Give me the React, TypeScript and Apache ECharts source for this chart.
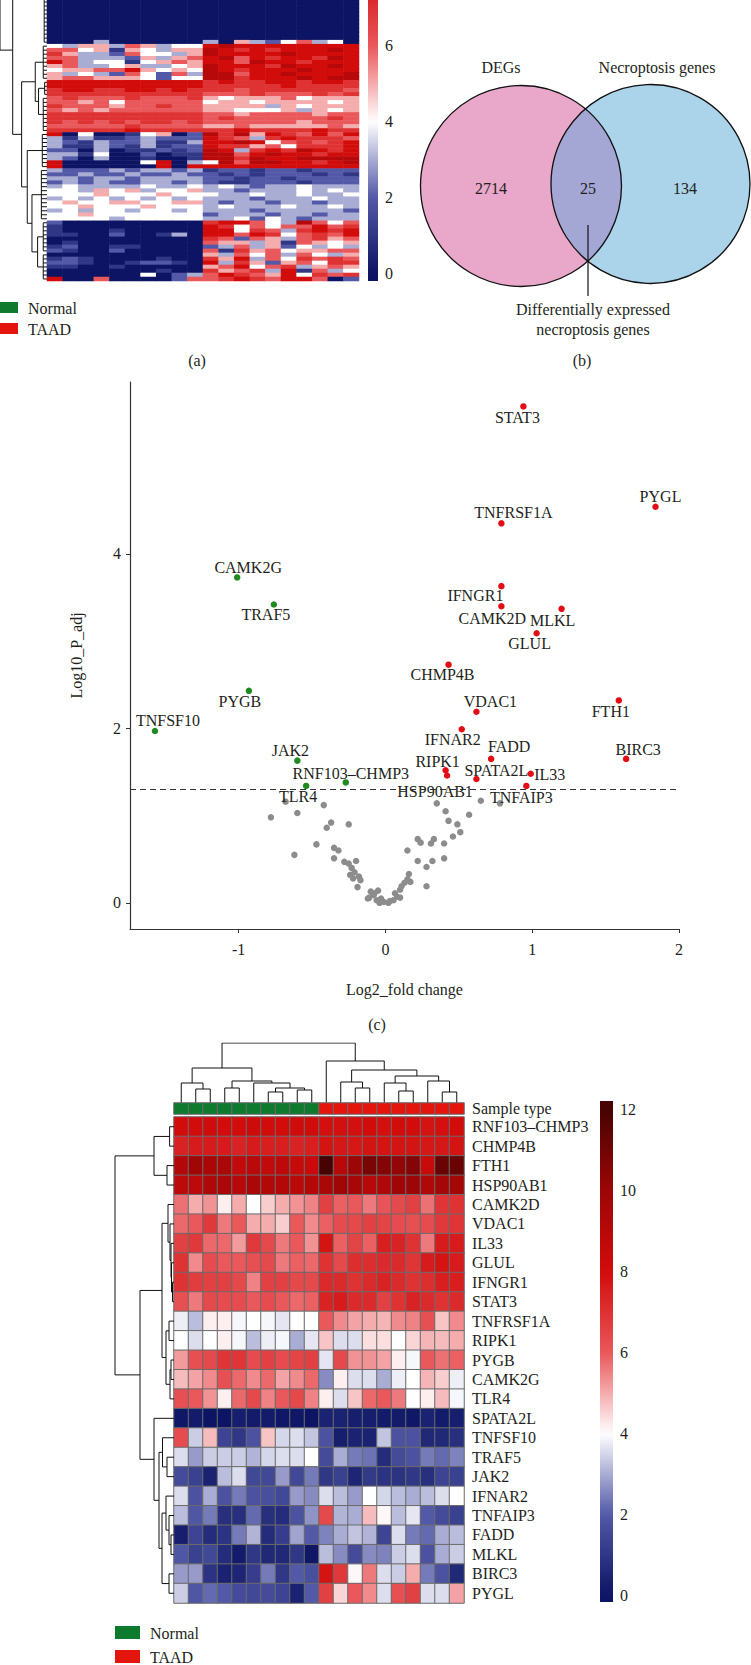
import React, { useEffect, useRef } from "react";
import * as echarts from "echarts";

// ---------------- DATA ----------------
const SAMPLE_GROUPS = ["Normal","Normal","Normal","Normal","Normal","Normal","Normal","Normal","Normal","Normal","TAAD","TAAD","TAAD","TAAD","TAAD","TAAD","TAAD","TAAD","TAAD","TAAD"];

// panel (a): expression heatmap, one string per row, one digit (expression value) per sample
const HEAT_A_ROWS = [
  "00000000000000000000","00000000000000000000","00000000000000000000","00000000000000000000","00000000000000000000",
  "00000000000000000000","00000000000000000000","00000000000000000000","00000000000000000000","00000000000000000000",
  "00030000003053246340","43553653448988888888","66451543559878788898","75332644359888898888","66333253568968788798",
  "86344145658869887888","56334533459888798898","45566854549878889888","53432642639968898889","56655542449978889899",
  "88888888887877887887","88888888887777787777","78877887877767777776","77777777776667666767","67666766675455564555",
  "66564666664554555545","76665667665555354555","65656666665544453545","77777777776656666566","77777777776766666676",
  "76767677676666665666","66666766665565555565","77777877777787777877","80400145029795876868","31311232228763787776",
  "32132231138898467678","31132131228775647778","22030112129837879878","33140020119968988788","32030010019979889999",
  "80000048034969988789","80000008088888888888","32223233231221221222","22322322322121222121","33233233332212212222",
  "23232233232112221222","34333343343432334333","44354534453323334343","44454445444334334334","34343434343332333433",
  "45445544553233233233","44544454443433343343","34344344343332333332","44544444442333233233","44443444443342432333",
  "20000000007886439646","10000000008746466867","10001000008847637878","11002001308868746768","00000000007626536756",
  "01000000006553516545","12001100002363524343","21002000006175645566","00000000005364636435","12100001007583647676",
  "22100122108375256477","11001000005684673565","00000001007567381634","00000040236876584767","80060000266787688602",
];
const HEAT_A_TICKS = [0, 2, 4, 6];

// panel (b): Venn
const VENN_SETS = ["DEGs", "Necroptosis genes"];
const VENN_COUNTS = [2714, 25, 134];
const VENN_NOTE = ["Differentially expressed", "necroptosis genes"];

// panel (c): volcano
const DOWN_GENES = ["CAMK2G","TRAF5","PYGB","TNFSF10","JAK2","RNF103–CHMP3","TLR4"];
const DOWN_X = [-1.01,-0.76,-0.93,-1.57,-0.60,-0.27,-0.54];
const DOWN_Y = [3.73,3.42,2.43,1.97,1.63,1.38,1.34];
const UP_GENES = ["STAT3","PYGL","TNFRSF1A","IFNGR1","CAMK2D","MLKL","GLUL","CHMP4B","FTH1","VDAC1","IFNAR2","FADD","BIRC3","RIPK1","HSP90AB1","SPATA2L","IL33","TNFAIP3"];
const UP_X = [0.94,1.84,0.79,0.79,0.79,1.20,1.03,0.43,1.59,0.62,0.52,0.72,1.64,0.41,0.42,0.62,0.99,0.96];
const UP_Y = [5.69,4.54,4.35,3.63,3.40,3.37,3.09,2.73,2.32,2.19,1.99,1.65,1.65,1.52,1.46,1.42,1.48,1.34];
const NS_X = [-0.68,-0.42,-0.78,-0.60,-0.37,-0.40,-0.25,-0.47,-0.62,-0.35,-0.32,-0.35,-0.28,-0.25,-0.20,-0.23,-0.24,-0.21,-0.18,-0.17,-0.19,-0.22,-0.10,-0.11,-0.08,-0.06,-0.04,-0.01,-0.03,-0.075,-0.05,-0.12,
  0.02,0.055,0.03,0.08,0.065,0.10,0.10,0.11,0.13,0.15,0.16,0.17,0.15,0.22,0.24,0.22,0.28,0.28,0.31,0.33,0.32,0.35,0.41,0.43,0.40,0.40,0.46,0.49,0.51,0.57,0.65,0.78];
const NS_Y = [1.16,1.12,0.98,1.03,0.92,0.86,0.90,0.67,0.55,0.63,0.60,0.51,0.47,0.45,0.48,0.40,0.32,0.35,0.30,0.26,0.18,0.28,0.13,0.06,0.09,0.03,0.00,0.01,0.05,0.11,0.14,0.05,
  0.00,0.03,0.02,0.07,0.11,0.06,0.15,0.19,0.23,0.27,0.33,0.24,0.60,0.73,0.69,0.48,0.41,0.19,0.68,0.73,0.48,1.14,1.05,0.94,0.68,0.51,0.76,0.90,0.81,1.01,1.17,1.14];
const P_CUTOFF = 0.05;
const VOLCANO_X_TICKS = [-1, 0, 1, 2];
const VOLCANO_Y_TICKS = [0, 2, 4];

// panel (d): heatmap of the 25 genes
const GENES_D = ["RNF103–CHMP3","CHMP4B","FTH1","HSP90AB1","CAMK2D","VDAC1","IL33","GLUL","IFNGR1","STAT3","TNFRSF1A","RIPK1","PYGB","CAMK2G","TLR4","SPATA2L","TNFSF10","TRAF5","JAK2","IFNAR2","TNFAIP3","FADD","MLKL","BIRC3","PYGL"];
const EXPR_D = [
  [8.0,8.0,8.1,8.0,8.0,8.2,8.0,8.0,8.1,8.1, 7.9,7.9,7.9,8.0,7.9,8.0,8.0,7.8,7.9,8.0],
  [7.4,7.6,7.6,7.6,7.4,7.6,7.5,7.5,7.4,7.5, 7.8,7.7,7.7,7.8,7.8,7.8,7.8,7.7,7.7,7.8],
  [9.2,9.8,9.4,9.5,8.6,8.9,8.6,8.8,8.5,8.3, 12.2,9.0,10.0,10.8,10.6,10.2,10.6,8.4,11.2,11.2],
  [8.8,8.8,9.3,9.5,9.0,9.5,9.2,9.2,8.9,9.1, 9.5,9.8,9.6,9.0,9.3,9.8,10.0,9.3,9.7,9.7],
  [5.7,5.0,5.3,4.2,5.0,4.0,4.6,5.0,5.3,5.5, 6.6,5.9,6.0,5.6,6.1,6.4,6.6,5.7,6.9,7.0],
  [5.8,6.0,6.8,5.6,6.0,5.0,5.0,4.6,6.0,5.4, 5.9,6.3,6.4,6.6,6.5,6.3,6.2,6.3,6.8,6.9],
  [6.6,6.8,5.8,5.8,5.2,6.8,6.4,5.6,6.0,5.3, 7.8,5.9,6.5,5.9,7.5,7.4,7.0,5.6,7.6,7.6],
  [7.0,5.4,6.3,6.0,6.0,6.2,6.4,5.6,5.9,5.8, 7.0,6.4,7.1,7.1,7.2,7.2,6.9,7.6,7.8,7.6],
  [7.0,6.7,6.6,6.6,6.4,5.5,6.6,6.6,6.4,6.4, 7.2,7.2,7.0,7.2,7.4,7.2,7.0,7.1,7.5,7.5],
  [6.2,5.6,6.4,6.3,6.3,6.0,6.3,6.0,5.8,5.9, 7.4,7.6,7.2,7.2,6.6,7.0,7.4,7.2,7.0,7.2],
  [3.8,3.2,4.2,4.2,3.9,4.0,3.9,3.7,4.0,4.0, 6.0,5.4,5.1,5.0,4.9,5.4,5.5,6.2,4.7,5.4],
  [4.0,3.6,4.0,4.2,3.9,3.2,3.8,3.9,3.0,3.7, 4.7,3.6,3.6,4.4,4.4,4.0,4.5,4.9,4.8,5.0],
  [5.2,6.2,6.4,6.9,6.9,6.3,6.6,6.3,6.5,6.6, 3.7,6.4,5.3,5.3,5.1,4.2,3.9,6.0,5.7,5.9],
  [4.8,5.1,5.4,6.2,5.8,5.4,5.8,5.1,5.4,5.8, 2.6,4.2,3.6,3.6,3.0,3.8,4.0,4.9,4.6,3.8],
  [6.2,6.0,5.3,4.2,5.8,6.4,5.5,6.0,6.4,5.5, 4.2,3.6,4.7,5.8,6.0,5.6,4.0,4.2,4.8,3.9],
  [0.1,0.2,0.0,0.0,0.3,0.2,0.2,0.1,0.1,0.0, 0.4,0.4,0.3,0.3,0.2,0.2,0.1,0.4,0.2,0.3],
  [6.3,3.4,4.8,1.4,1.0,1.8,4.7,3.5,3.6,3.3, 1.8,0.3,0.4,0.4,3.3,1.8,1.8,0.6,0.6,0.8],
  [3.6,2.8,3.4,3.4,3.4,3.1,3.5,3.6,3.6,4.0, 1.6,3.0,2.4,2.3,0.7,1.6,1.8,2.4,2.2,2.5],
  [1.6,1.3,0.4,3.2,3.6,1.5,1.5,2.8,1.5,2.4, 1.0,1.3,0.5,1.1,0.9,0.9,1.0,0.8,1.4,1.3],
  [3.6,1.8,3.0,1.8,2.4,1.8,1.7,1.5,2.8,2.6, 3.6,3.2,2.8,4.0,3.5,3.2,3.0,3.2,3.6,4.0],
  [3.2,1.9,2.4,0.8,0.8,2.2,0.8,0.7,1.8,2.7, 6.4,3.1,3.0,4.8,4.1,3.2,3.7,2.0,1.6,1.3],
  [0.3,1.4,0.7,0.9,2.4,3.1,0.7,1.2,2.9,2.0, 2.5,3.0,3.3,3.1,1.4,3.6,2.4,2.2,3.0,3.2],
  [1.9,1.3,1.5,0.7,0.2,1.0,0.6,0.6,1.0,0.1, 3.2,2.6,1.6,2.6,2.5,3.4,3.6,1.8,3.0,3.4],
  [2.8,2.8,0.9,0.4,0.5,1.2,2.4,1.0,2.0,1.7, 7.8,6.8,4.1,5.6,3.6,3.4,5.0,2.4,1.8,0.6],
  [3.4,1.9,2.2,2.0,1.6,1.5,1.6,1.4,0.4,2.0, 6.6,4.5,6.0,5.4,3.6,6.2,6.6,3.6,3.6,5.1],
];
const HEAT_D_TICKS = [0, 2, 4, 6, 8, 10, 12];

// dendrograms: leaves are sample / row indices (or row blocks), h = merge height
type TNode = number | { h: number; c: [TNode, TNode] } | { r: [number, number]; h: number };
const ROW_TREE_A: TNode = { h: 100, c: [
  { r: [-60, -30], h: 5 },
  { h: 73, c: [
    { r: [-28, 10], h: 6 },
    { h: 54, c: [
      { h: 25, c: [ { r: [11, 19], h: 8 }, { h: 18, c: [ { r: [20, 23], h: 5 }, { r: [24, 32], h: 8 } ] } ] },
      { h: 42, c: [
        { r: [33, 41], h: 10 },
        { h: 32, c: [ { r: [42, 54], h: 12 }, { h: 20, c: [ { r: [55, 62], h: 8 }, { r: [63, 69], h: 8 } ] } ] },
      ] },
    ] },
  ] },
] };
const COL_TREE_D: TNode = { h: 60, c: [
  { h: 35, c: [
    { h: 20, c: [0, { h: 14, c: [1, 2] }] },
    { h: 22, c: [ { h: 15, c: [3, 4] }, { h: 20, c: [5, { h: 15, c: [ { h: 11, c: [6, 7] }, { h: 13, c: [8, 9] } ] }] } ] },
  ] },
  { h: 42, c: [10, { h: 33, c: [
    { h: 21, c: [11, { h: 15, c: [12, 13] }] },
    { h: 27, c: [ { h: 20, c: [14, { h: 12, c: [15, 16] }] }, { h: 22, c: [17, { h: 11, c: [18, 19] }] } ] },
  ] }] },
] };
const ROW_TREE_D: TNode = { h: 59, c: [
  { h: 20, c: [ { h: 4.4, c: [0, 1] }, { h: 7, c: [2, 3] } ] },
  { h: 34, c: [
    { h: 12, c: [
      { h: 6, c: [4, { h: 4, c: [5, { h: 3, c: [6, { h: 2.5, c: [7, { h: 1.5, c: [8, 9] }] }] }] }] },
      { h: 8, c: [ { h: 5, c: [10, 11] }, { h: 4, c: [ { h: 3, c: [12, 13] }, 14 ] } ] },
    ] },
    { h: 20, c: [15, { h: 15, c: [
      { h: 11.5, c: [16, { h: 7, c: [17, 18] }] },
      { h: 12, c: [ { h: 8, c: [19, { h: 5, c: [20, { h: 3, c: [21, 22] }] }] }, { h: 5, c: [23, 24] } ] },
    ] }] },
  ] },
] };

// ---------------- STYLE ----------------
const FONT = '"Liberation Serif", "Times New Roman", serif';
const INK = "#231f20";
const PALETTE = ["#0c1463", "#5359a7", "#ffffff", "#e9585b", "#d20b0b", "#9c0606", "#470303"];
const PAL_MIN = 0, PAL_MAX = 12;
const GREEN = "#0d7a2d";
const RED = "#e3150d";
const PT_GREEN = "#1f8a1f";
const PT_RED = "#e30d16";
const PT_GRAY = "#8c8c8c";
const LABEL_OFFSET: Record<string, [number, number]> = {
  STAT3: [-6, 11], PYGL: [5, -10], TNFRSF1A: [12, -11], CAMK2G: [11, -10], TRAF5: [-8, 10],
  IFNGR1: [-26, 9], CAMK2D: [-9, 12], MLKL: [-9, 12], GLUL: [-7, 10], CHMP4B: [-6, 10],
  PYGB: [-9, 11], FTH1: [-8, 11], VDAC1: [14, -10], TNFSF10: [13, -10], IFNAR2: [-9, 10],
  JAK2: [-7, -10], FADD: [18, -12], BIRC3: [12, -9], RIPK1: [-8, -9], HSP90AB1: [-12, 16],
  SPATA2L: [20, -8], IL33: [19, 1], TNFAIP3: [-5, 12], "RNF103–CHMP3": [5, -9], TLR4: [-8, 11],
};

function hexToRgb(h: string) { const n = parseInt(h.slice(1), 16); return [(n >> 16) & 255, (n >> 8) & 255, n & 255]; }
function colorAt(v: number) {
  const t = Math.max(0, Math.min(1, (v - PAL_MIN) / (PAL_MAX - PAL_MIN))) * (PALETTE.length - 1);
  const i = Math.min(PALETTE.length - 2, Math.floor(t));
  const f = t - i;
  const a = hexToRgb(PALETTE[i]), b = hexToRgb(PALETTE[i + 1]);
  const c = a.map((x, k) => Math.round(x + (b[k] - x) * f));
  return `rgb(${c[0]},${c[1]},${c[2]})`;
}

function buildDendro(node: TNode, toXY: (p: number, h: number) => number[], out: number[][][]): { p: number; h: number } {
  if (typeof node === "number") return { p: node + 0.5, h: 0 };
  if ("r" in node) {
    const [s, e] = node.r;
    out.push([toXY(s + 0.5, node.h), toXY(e + 0.5, node.h)]);
    for (let i = s; i <= e; i++) out.push([toXY(i + 0.5, node.h), toXY(i + 0.5, 0)]);
    return { p: (s + e + 1) / 2, h: node.h };
  }
  const a = buildDendro(node.c[0], toXY, out);
  const b = buildDendro(node.c[1], toXY, out);
  out.push([toXY(a.p, a.h), toXY(a.p, node.h), toXY(b.p, node.h), toXY(b.p, b.h)]);
  return { p: (a.p + b.p) / 2, h: node.h };
}

function gradientBar(x: number, y: number, w: number, h: number, vBottom: number, vTop: number) {
  const stops = [];
  for (let k = 0; k <= 48; k++) {
    const v = vBottom + ((vTop - vBottom) * k) / 48;
    stops.push({ offset: k / 48, color: colorAt(v) });
  }
  return { type: "rect", shape: { x, y, width: w, height: h }, style: { fill: new echarts.graphic.LinearGradient(0, 1, 0, 0, stops) }, z: 5 };
}

function txt(text: string, x: number, y: number, align = "left", size = 16, extra: any = {}) {
  return { type: "text", x, y, z: 10, style: { text, fill: INK, fontSize: size, fontFamily: FONT, align, verticalAlign: "middle", ...extra } };
}

function buildOption() {
  const graphics: any[] = [];

  // ---------- (a) ----------
  const heatA: number[][] = [];
  HEAT_A_ROWS.forEach((row, r) => row.split("").forEach((ch, c) => heatA.push([c, r, Number(ch)])));
  const dendA: number[][][] = [];
  buildDendro(ROW_TREE_A, (p, h) => [h, p], dendA);
  const barA = { x: 368, top: 0, w: 10, h: 281, vBottom: -0.2, vTop: 7.2 };
  graphics.push(gradientBar(barA.x, barA.top, barA.w, barA.h, barA.vBottom, barA.vTop));
  HEAT_A_TICKS.forEach((v) => {
    const y = barA.top + barA.h * (barA.vTop - v) / (barA.vTop - barA.vBottom);
    graphics.push(txt(String(v), 385, y, "left"));
  });
  graphics.push({ type: "rect", shape: { x: 0, y: 302, width: 18, height: 11 }, style: { fill: GREEN } });
  graphics.push(txt("Normal", 28, 308));
  graphics.push({ type: "rect", shape: { x: 0, y: 323, width: 18, height: 11 }, style: { fill: RED } });
  graphics.push(txt("TAAD", 28, 329));
  graphics.push(txt("(a)", 197, 360, "center"));

  // ---------- (b) Venn ----------
  const c1 = { x: 521, y: 186, r: 100.5 }, c2 = { x: 650.5, y: 184, r: 99.5 };
  graphics.push({ type: "circle", shape: { cx: c1.x, cy: c1.y, r: c1.r }, style: { fill: "#e9a7c9", stroke: "none" }, z: 2 });
  graphics.push({ type: "circle", shape: { cx: c2.x, cy: c2.y, r: c2.r }, style: { fill: "#abd3ea", stroke: "none" }, z: 2 });
  const lens: number[][] = [];
  for (let k = 0; k <= 720; k++) {
    const t = -Math.PI + (2 * Math.PI * k) / 720;
    const px = c1.x + c1.r * Math.cos(t), py = c1.y + c1.r * Math.sin(t);
    if (Math.hypot(px - c2.x, py - c2.y) <= c2.r) lens.push([px, py]);
  }
  for (let k = 0; k <= 720; k++) {
    const t = (2 * Math.PI * k) / 720;
    const px = c2.x + c2.r * Math.cos(t), py = c2.y + c2.r * Math.sin(t);
    if (Math.hypot(px - c1.x, py - c1.y) <= c1.r) lens.push([px, py]);
  }
  graphics.push({ type: "polygon", shape: { points: lens }, style: { fill: "#a4a6d4", stroke: "none" }, z: 3 });
  graphics.push({ type: "circle", shape: { cx: c1.x, cy: c1.y, r: c1.r }, style: { fill: "none", stroke: "#111", lineWidth: 1.3 }, z: 4 });
  graphics.push({ type: "circle", shape: { cx: c2.x, cy: c2.y, r: c2.r }, style: { fill: "none", stroke: "#111", lineWidth: 1.3 }, z: 4 });
  graphics.push(txt(VENN_SETS[0], 501, 67, "center"));
  graphics.push(txt(VENN_SETS[1], 657, 67, "center"));
  graphics.push(txt(String(VENN_COUNTS[0]), 491, 188, "center"));
  graphics.push(txt(String(VENN_COUNTS[1]), 588, 188, "center"));
  graphics.push(txt(String(VENN_COUNTS[2]), 685, 188, "center"));
  graphics.push({ type: "line", shape: { x1: 588, y1: 225, x2: 588, y2: 296 }, style: { stroke: "#111", lineWidth: 1.2 }, z: 5 });
  graphics.push(txt(VENN_NOTE[0], 593, 309, "center"));
  graphics.push(txt(VENN_NOTE[1], 593, 329, "center"));
  graphics.push(txt("(b)", 582, 360, "center"));

  // ---------- (c) ----------
  graphics.push(txt("(c)", 377, 1024, "center"));

  // ---------- (d) ----------
  const heatD: number[][] = [];
  EXPR_D.forEach((row, r) => row.forEach((v, c) => heatD.push([c, r, v])));
  const sampleBar = SAMPLE_GROUPS.map((g, i) => [i, 0, g === "Normal" ? 0 : 1]);
  const dendCol: number[][][] = [];
  buildDendro(COL_TREE_D, (p, h) => [p, h], dendCol);
  const dendRow: number[][][] = [];
  buildDendro(ROW_TREE_D, (p, h) => [h, p], dendRow);
  const barD = { x: 600, top: 1101, w: 13, h: 501, vBottom: -0.15, vTop: 12.2 };
  graphics.push(gradientBar(barD.x, barD.top, barD.w, barD.h, barD.vBottom, barD.vTop));
  HEAT_D_TICKS.forEach((v) => {
    const y = barD.top + barD.h * (barD.vTop - v) / (barD.vTop - barD.vBottom);
    graphics.push(txt(String(v), 620, y, "left"));
  });
  graphics.push({ type: "rect", shape: { x: 115, y: 1626, width: 25, height: 13 }, style: { fill: GREEN } });
  graphics.push(txt("Normal", 150, 1633));
  graphics.push({ type: "rect", shape: { x: 115, y: 1650, width: 25, height: 13 }, style: { fill: RED } });
  graphics.push(txt("TAAD", 150, 1657));

  const hidden = { show: false };
  const catAxis = (gridIndex: number, n: number, inverse = false) => ({
    type: "category", gridIndex, data: Array.from({ length: n }, (_, i) => String(i)), inverse,
    axisLine: hidden, axisTick: hidden, axisLabel: hidden, splitLine: hidden,
  });
  const valAxis = (gridIndex: number, min: number, max: number, inverse = false) => ({
    type: "value", gridIndex, min, max, inverse, show: false, splitLine: hidden,
  });
  const dendLine = { color: "#111", width: 1, opacity: 1 };
  const labelText = { color: INK, fontSize: 16, fontFamily: FONT };

  const mkPoint = (genes: string[], xs: number[], ys: number[]) =>
    genes.map((g, i) => ({ name: g, value: [xs[i], ys[i]], label: { offset: LABEL_OFFSET[g] || [0, 0] } }));

  return {
    animation: false,
    backgroundColor: "#ffffff",
    textStyle: { fontFamily: FONT },
    grid: [
      { left: 47, top: 0, width: 312, height: 281, outerBoundsMode: "none" },
      { left: 0, top: 0, width: 47, height: 281, outerBoundsMode: "none" },
      { left: 130, top: 382, width: 549, height: 547, outerBoundsMode: "none" },
      { left: 174, top: 1043, width: 290, height: 60, outerBoundsMode: "none" },
      { left: 174, top: 1103, width: 290, height: 11, outerBoundsMode: "none" },
      { left: 174, top: 1117, width: 290, height: 486, outerBoundsMode: "none" },
      { left: 114, top: 1117, width: 60, height: 486, outerBoundsMode: "none" },
    ],
    xAxis: [
      catAxis(0, 20),
      valAxis(1, 0, 100, true),
      {
        type: "value", gridIndex: 2, min: -1.74, max: 2.0,
        axisLine: { show: true, onZero: false, lineStyle: { color: "#333", width: 1.2 } },
        axisTick: { show: true, length: 4, lineStyle: { color: "#333" }, customValues: VOLCANO_X_TICKS },
        axisLabel: { customValues: VOLCANO_X_TICKS, margin: 12, ...labelText, formatter: (v: number) => (v < 0 ? "-" + Math.abs(v) : String(v)) },
        splitLine: hidden,
        name: "Log2_fold change", nameLocation: "middle", nameGap: 52, nameTextStyle: labelText,
      },
      valAxis(3, 0, 20),
      catAxis(4, 20),
      catAxis(5, 20),
      valAxis(6, 0, 60, true),
    ],
    yAxis: [
      catAxis(0, HEAT_A_ROWS.length, true),
      valAxis(1, 0, HEAT_A_ROWS.length, true),
      {
        type: "value", gridIndex: 2, min: -0.3, max: 5.97,
        axisLine: { show: true, onZero: false, lineStyle: { color: "#333", width: 1.2 } },
        axisTick: { show: true, length: 4, lineStyle: { color: "#333" }, customValues: VOLCANO_Y_TICKS },
        axisLabel: { customValues: VOLCANO_Y_TICKS, margin: 9, ...labelText },
        splitLine: hidden,
        name: "Log10_P_adj", nameLocation: "middle", nameGap: 46, nameTextStyle: labelText,
      },
      valAxis(3, 0, 60),
      {
        type: "category", gridIndex: 4, data: ["Sample type"], position: "right",
        axisLine: hidden, axisTick: hidden, splitLine: hidden,
        axisLabel: { show: true, margin: 8, ...labelText },
      },
      {
        type: "category", gridIndex: 5, data: GENES_D, position: "right", inverse: true,
        axisLine: hidden, axisTick: hidden, splitLine: hidden,
        axisLabel: { show: true, interval: 0, margin: 8, ...labelText },
      },
      valAxis(6, 0, GENES_D.length, true),
    ],
    visualMap: [
      { type: "continuous", show: false, seriesIndex: [0, 7], min: PAL_MIN, max: PAL_MAX, dimension: 2, inRange: { color: PALETTE } },
      { type: "piecewise", show: false, seriesIndex: [6], dimension: 2, pieces: [{ value: 0, color: GREEN }, { value: 1, color: RED }] },
    ],
    series: [
      { type: "heatmap", xAxisIndex: 0, yAxisIndex: 0, data: heatA, itemStyle: { borderWidth: 0 }, emphasis: { disabled: true } },
      { type: "lines", coordinateSystem: "cartesian2d", xAxisIndex: 1, yAxisIndex: 1, polyline: true, silent: true,
        lineStyle: dendLine, data: dendA.map((c) => ({ coords: c })) },
      { type: "scatter", xAxisIndex: 2, yAxisIndex: 2, symbolSize: 6.5, itemStyle: { color: PT_GRAY, opacity: 1 },
        data: NS_X.map((x, i) => [x, NS_Y[i]]), silent: true,
        markLine: { silent: true, symbol: "none", label: { show: false },
          lineStyle: { type: [6, 4], color: "#333", width: 1.1 },
          data: [{ yAxis: -Math.log10(P_CUTOFF) }] } },
      { type: "scatter", xAxisIndex: 2, yAxisIndex: 2, symbolSize: 6.5, itemStyle: { color: PT_GREEN, opacity: 1 },
        data: mkPoint(DOWN_GENES, DOWN_X, DOWN_Y),
        label: { show: true, position: "inside", formatter: "{b}", ...labelText } },
      { type: "scatter", xAxisIndex: 2, yAxisIndex: 2, symbolSize: 6.5, itemStyle: { color: PT_RED, opacity: 1 },
        data: mkPoint(UP_GENES, UP_X, UP_Y),
        label: { show: true, position: "inside", formatter: "{b}", ...labelText } },
      { type: "lines", coordinateSystem: "cartesian2d", xAxisIndex: 3, yAxisIndex: 3, polyline: true, silent: true,
        lineStyle: dendLine, data: dendCol.map((c) => ({ coords: c })) },
      { type: "heatmap", xAxisIndex: 4, yAxisIndex: 4, data: sampleBar, itemStyle: { borderColor: "#6b6b6b", borderWidth: 1 }, emphasis: { disabled: true } },
      { type: "heatmap", xAxisIndex: 5, yAxisIndex: 5, data: heatD, itemStyle: { borderColor: "#6b6b6b", borderWidth: 1 }, emphasis: { disabled: true } },
      { type: "lines", coordinateSystem: "cartesian2d", xAxisIndex: 6, yAxisIndex: 6, polyline: true, silent: true,
        lineStyle: dendLine, data: dendRow.map((c) => ({ coords: c })) },
    ],
    graphic: { elements: graphics },
  };
}

export default function App() {
  const ref = useRef<HTMLDivElement>(null);
  useEffect(() => {
    if (!ref.current) return;
    const chart = echarts.init(ref.current, null, { renderer: "svg" });
    chart.setOption(buildOption() as any);
    return () => chart.dispose();
  }, []);
  return <div ref={ref} style={{ position: "absolute", left: 0, top: 0, width: 751, height: 1665, background: "#fff" }} />;
}
